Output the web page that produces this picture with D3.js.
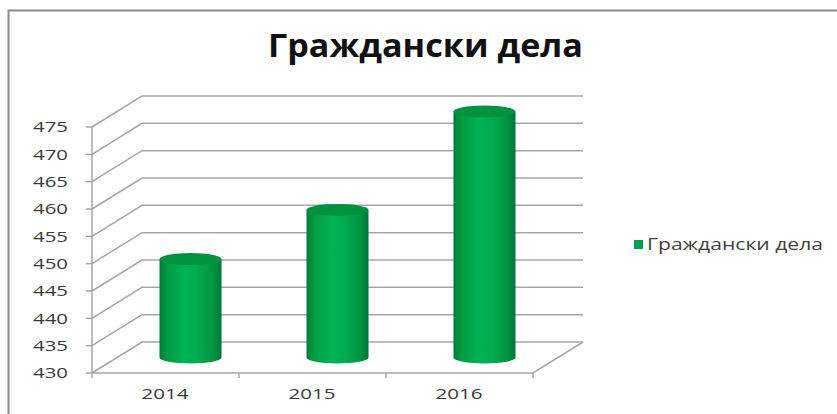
<!DOCTYPE html>
<html><head><meta charset="utf-8">
<script src="https://cdn.jsdelivr.net/npm/d3@7"></script>
<style>body{margin:0;background:#fff}svg{display:block}</style>
</head><body>
<svg id="c" width="837" height="414"></svg>
<script>
const title = "Граждански дела";
const seriesName = "Граждански дела";
const categories = ["2014", "2015", "2016"];
const values = [448, 457, 475];
const yTicks = [430, 435, 440, 445, 450, 455, 460, 465, 470, 475];

const svg = d3.select("#c");
const W = 837, H = 414;
const depthX = 50, depthY = -31;
const x = d3.scaleBand().domain(categories).range([92, 533]).paddingInner(0).paddingOuter(0);
const y = d3.scaleLinear().domain([430, 475]).range([373, 127]);

// frame
svg.append("path").attr("d", `M8.5,${H}V10.5H${W}`).attr("fill","none").attr("stroke","#8c8c8c").attr("stroke-width",2);

const defs = svg.append("defs");
const g1 = defs.append("linearGradient").attr("id","cyl").attr("x1","0").attr("x2","1").attr("y1","0").attr("y2","0");
[[0,"#007b36"],[0.12,"#009a44"],[0.4,"#00b352"],[0.6,"#00ad4f"],[0.88,"#009242"],[1,"#00733a"]].forEach(s=>g1.append("stop").attr("offset",s[0]).attr("stop-color",s[1]));

const grid = svg.append("g").attr("stroke","#a6a6a6").attr("stroke-width",1.5).attr("fill","none");
const [x0, x1] = x.range();
yTicks.forEach(v => {
  const yy = y(v);
  grid.append("path").attr("d", `M${x0},${yy}L${x0+depthX},${yy+depthY}H${x1+depthX}`);
});
// floor
grid.append("path").attr("d", `M${x0},${y(430)}H${x1}L${x1+depthX},${y(430)+depthY}`);
// axis
grid.append("path").attr("d", `M${x0},${y(475)}V${y(430)}`);
yTicks.forEach(v => grid.append("path").attr("d", `M${x0-6},${y(v)}H${x0}`));
[x0, ...categories.map(c=>x(c)+x.bandwidth())].forEach(xx => grid.append("path").attr("d", `M${xx},${y(430)}V${y(430)+5}`));

// y labels
svg.append("g").selectAll("text").data(yTicks).join("text")
  .attr("x", 33).attr("y", d=>y(d)).attr("dy","0.36em")
  .attr("textLength", 35).attr("lengthAdjust","spacingAndGlyphs")
  .attr("font-family","Open Sans").attr("font-weight",500).attr("font-size",15).attr("fill","#3a3a3a").text(d=>d);
// x labels
svg.append("g").selectAll("text").data(categories).join("text")
  .attr("x", d=>x(d)+x.bandwidth()/2 - 24).attr("y", 399)
  .attr("textLength", 47).attr("lengthAdjust","spacingAndGlyphs")
  .attr("font-family","Open Sans").attr("font-weight",500).attr("font-size",15).attr("fill","#3a3a3a").text(d=>d);

// cylinders
const cw = 62, ry = 6;
const cyl = svg.append("g");
categories.forEach((c,i) => {
  const cx = x(c) + x.bandwidth()/2 + depthX/2;
  const yb = y(430) + depthY/2, yt = y(values[i]) + depthY/2;
  const l = cx - cw/2, r = cx + cw/2, rx = cw/2;
  cyl.append("path").attr("d", `M${l},${yt}V${yb}A${rx},${ry} 0 0 0 ${r},${yb}V${yt}Z`).attr("fill","url(#cyl)");
  cyl.append("ellipse").attr("cx",cx).attr("cy",yt).attr("rx",rx).attr("ry",ry).attr("fill","#00923f");
});

// title
svg.append("text").attr("x", 268).attr("y", 57)
  .attr("textLength", 315).attr("lengthAdjust","spacingAndGlyphs")
  .attr("font-family","Open Sans").attr("font-weight","bold").attr("font-size",32).attr("fill","#111").text(title);

// legend
svg.append("rect").attr("x",634).attr("y",240).attr("width",9).attr("height",9).attr("fill","#00a050");
svg.append("text").attr("x",647).attr("y",250)
  .attr("textLength", 176).attr("lengthAdjust","spacingAndGlyphs")
  .attr("font-family","Open Sans").attr("font-size",16).attr("fill","#404040").text(seriesName);
</script>
</body></html>
